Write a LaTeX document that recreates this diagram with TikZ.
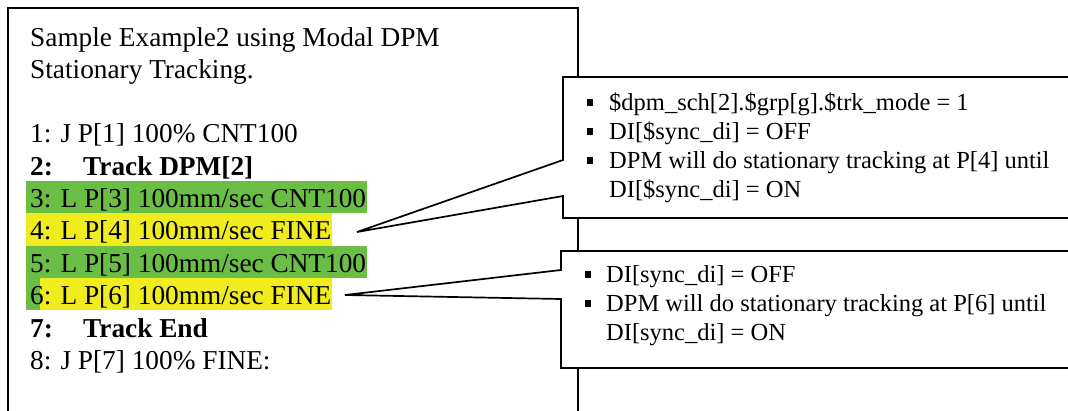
\documentclass[tikz,border=0pt]{standalone}
\usepackage{fontspec}
\setmainfont{Liberation Serif}
\usetikzlibrary{calc}
\definecolor{hlgreen}{RGB}{106,189,69}
\definecolor{hlyellow}{RGB}{240,236,30}
\tikzset{
  mainline/.style={anchor=base west, inner sep=0pt, font=\fontsize{27.3}{32}\selectfont},
  noteline/.style={anchor=base west, inner sep=0pt, font=\fontsize{24.5}{28.6}\selectfont},
  bulletsq/.style={fill=black, minimum size=6.5pt, inner sep=0pt},
  frameline/.style={line width=2pt, line cap=rect},
  calloutbox/.style={draw=black, fill=white, line width=1.7pt, line join=miter},
}
\begin{document}
\begin{tikzpicture}[x=1pt,y=-1pt]
\useasboundingbox (0,0) rectangle (1068,410);
\fill[white] (0,0) rectangle (1068,410);
% highlights
\fill[hlgreen] (26,181) rectangle (367,213);
\fill[hlyellow] (26,213) rectangle (332,245.5);
\fill[hlgreen] (26,245.5) rectangle (367,278);
\fill[hlgreen] (26,278) rectangle (40,310);
\fill[hlyellow] (40,278) rectangle (332,310);
% main frame (bottom is outside the picture)
\draw[frameline] (8,420) -- (8,8) -- (578,8) -- (578,420);
% main text
\node[mainline] (t1) at (30,46) {Sample Example2 using Modal DPM};
\node[mainline] (t2) at (30,78) {Stationary Tracking.};
\node[mainline] (r1) at (30,142) {1: J P[1] 100\% CNT100};
\node[mainline] (r2) at (30,175) {\makebox[53pt][l]{\textbf{2:}}\textbf{Track DPM[2]}};
\node[mainline] (r3) at (30,207) {3: L P[3] 100mm/sec CNT100};
\node[mainline] (r4) at (30,239.5) {4: L P[4] 100mm/sec FINE};
\node[mainline] (r5) at (30,272) {5: L P[5] 100mm/sec CNT100};
\node[mainline] (r6) at (30,304.5) {6: L P[6] 100mm/sec FINE};
\node[mainline] (r7) at (30,337) {\makebox[53pt][l]{\textbf{7:}}\textbf{Track End}};
\node[mainline] (r8) at (30,369) {8: J P[7] 100\% FINE:};
% callout 1
\coordinate (tip1) at (357,232);
\coordinate (c1a) at (563,160);
\coordinate (c1b) at (563,196);
\draw[calloutbox] (c1a) -- (tip1) -- (c1b) -- (563,218) -- (1075,218) -- (1075,77) -- (563,77) -- cycle;
\node[bulletsq] (b1) at (590,102.5) {};
\node[bulletsq] (b2) at (590,131.5) {};
\node[bulletsq] (b3) at (590,160.5) {};
\node[noteline] (n1) at (609,110) {\$dpm\_sch[2].\$grp[g].\$trk\_mode = 1};
\node[noteline] (n2) at (609,139) {DI[\$sync\_di] = OFF};
\node[noteline] (n3) at (609,168) {DPM will do stationary tracking at P[4] until};
\node[noteline] (n4) at (609,197) {DI[\$sync\_di] = ON};
% callout 2
\coordinate (tip2) at (345,295);
\coordinate (c2a) at (561,270);
\coordinate (c2b) at (561,299);
\draw[calloutbox] (c2a) -- (tip2) -- (c2b) -- (561,368) -- (1075,368) -- (1075,251) -- (561,251) -- cycle;
\node[bulletsq] (b4) at (588,274.5) {};
\node[bulletsq] (b5) at (588,303.5) {};
\node[noteline] (m1) at (606,282) {DI[sync\_di] = OFF};
\node[noteline] (m2) at (606,311) {DPM will do stationary tracking at P[6] until};
\node[noteline] (m3) at (606,340) {DI[sync\_di] = ON};
\end{tikzpicture}
\end{document}
